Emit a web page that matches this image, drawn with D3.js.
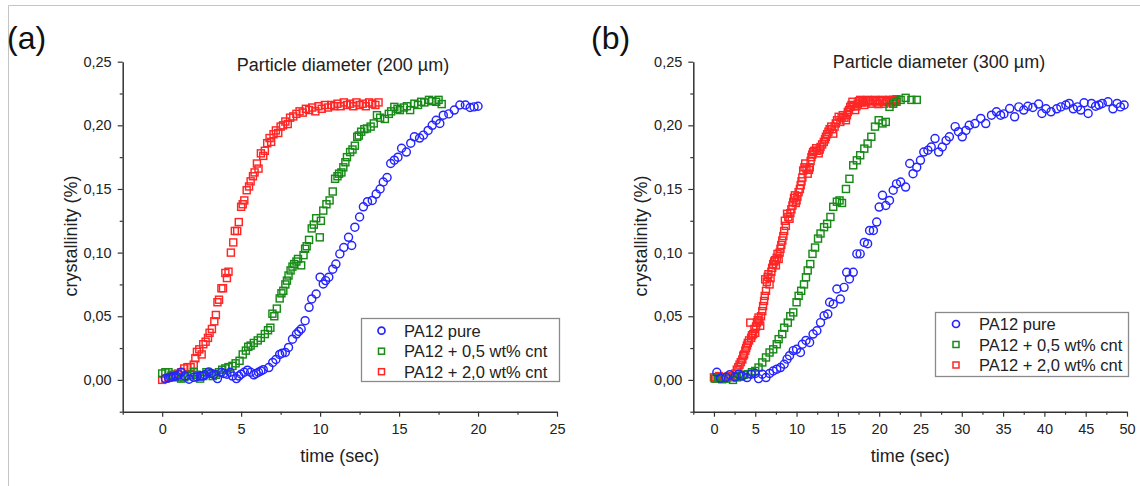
<!DOCTYPE html>
<html>
<head>
<meta charset="utf-8">
<script src="https://cdn.jsdelivr.net/npm/d3@7"></script>
<style>
  body { margin: 0; background: #fff; }
  svg { display: block; font-family: Arial, "Liberation Sans", sans-serif; }
</style>
</head>
<body>
<svg id="chart" width="1140" height="486"></svg>
<script>
// ---- data: [time (sec), crystallinity] ----
const seriesNames = ["PA12 pure", "PA12 + 0,5 wt% cnt", "PA12 + 2,0 wt% cnt"];

// panel (a): particle diameter 200 um
const aBlue = [[0.2,0.001],[0.4,0.0015],[0.53,0.002],[0.7,0.0025],[0.9,0.003],[1.05,0.004],[1.2,0.006],[1.45,0.003],[1.7,0.0005],[2.0,0.002],[2.2,0.0025],[2.4,0.003],[2.55,0.003],[2.7,0.004],[2.95,0.0063],[3.1,0.005],[3.3,0.0045],[3.5,0.001],[3.75,0.006],[3.9,0.005],[4.1,0.0045],[4.3,0.006],[4.45,0.003],[4.7,0.001],[4.85,0.003],[5.0,0.0045],[5.2,0.006],[5.4,0.0076],[5.6,0.006],[5.8,0.004],[5.95,0.005],[6.1,0.006],[6.25,0.007],[6.4,0.008],[6.75,0.0097],[7.0,0.0137],[7.2,0.016],[7.44,0.020],[7.6,0.021],[7.8,0.0215],[8.0,0.0255],[8.25,0.032],[8.5,0.036],[8.65,0.038],[8.8,0.040],[9.05,0.0465],[9.3,0.057],[9.47,0.0636],[9.75,0.0675],[10.0,0.0807],[10.2,0.0754],[10.35,0.078],[10.55,0.0807],[10.8,0.087],[11.0,0.091],[11.25,0.099],[11.5,0.104],[11.8,0.112],[12.0,0.1056],[12.2,0.120],[12.5,0.128],[12.74,0.136],[13.0,0.140],[13.3,0.141],[13.55,0.146],[13.8,0.150],[14.0,0.1555],[14.24,0.159],[14.47,0.170],[14.7,0.1726],[14.93,0.175],[15.16,0.182],[15.46,0.179],[15.74,0.186],[15.97,0.191],[16.3,0.190],[16.54,0.1923],[16.84,0.196],[17.1,0.200],[17.35,0.204],[17.58,0.2015],[17.8,0.208],[18.15,0.209],[18.5,0.212],[18.85,0.216],[19.2,0.216],[19.5,0.214],[19.75,0.2145],[20.0,0.215]];

const aGreen = [[0.0,0.005],[0.2,0.006],[0.4,0.006],[0.6,0.004],[0.8,0.003],[1.0,0.002],[1.2,0.001],[1.4,0.002],[1.6,0.003],[1.8,0.004],[2.0,0.006],[2.2,0.004],[2.4,0.001],[2.6,0.003],[2.8,0.006],[3.0,0.005],[3.2,0.003],[3.4,0.004],[3.6,0.006],[3.8,0.008],[4.0,0.009],[4.2,0.010],[4.45,0.011],[4.65,0.013],[4.9,0.015],[5.1,0.020],[5.3,0.023],[5.45,0.026],[5.6,0.027],[5.8,0.029],[6.05,0.031],[6.25,0.033],[6.5,0.036],[6.7,0.039],[6.85,0.041],[6.98,0.052],[7.1,0.050],[7.26,0.056],[7.44,0.064],[7.55,0.068],[7.67,0.070],[7.8,0.075],[7.9,0.078],[8.0,0.082],[8.13,0.086],[8.25,0.089],[8.36,0.091],[8.5,0.093],[8.6,0.095],[8.8,0.090],[8.95,0.098],[9.05,0.103],[9.15,0.105],[9.3,0.110],[9.47,0.119],[9.6,0.122],[9.75,0.127],[9.98,0.112],[10.05,0.125],[10.2,0.133],[10.4,0.138],[10.6,0.141],[10.8,0.148],[10.95,0.158],[11.1,0.160],[11.2,0.162],[11.35,0.163],[11.47,0.167],[11.6,0.171],[11.7,0.175],[11.9,0.179],[12.05,0.181],[12.2,0.184],[12.35,0.191],[12.45,0.192],[12.6,0.195],[12.8,0.197],[12.97,0.1975],[13.2,0.199],[13.4,0.2015],[13.6,0.208],[13.8,0.206],[14.1,0.205],[14.35,0.209],[14.5,0.211],[14.7,0.2145],[14.9,0.213],[15.05,0.212],[15.3,0.214],[15.5,0.215],[15.7,0.212],[15.97,0.217],[16.2,0.216],[16.4,0.2185],[16.6,0.218],[16.9,0.220],[17.1,0.219],[17.35,0.2185],[17.5,0.220],[17.7,0.2167]];

const aRed = [[0.0,0.000],[0.2,0.001],[0.4,0.002],[0.6,0.003],[0.8,0.004],[1.0,0.005],[1.2,0.006],[1.4,0.009],[1.6,0.010],[1.8,0.010],[2.0,0.012],[2.1,0.017],[2.2,0.022],[2.35,0.024],[2.5,0.020],[2.6,0.028],[2.75,0.030],[2.9,0.033],[3.0,0.037],[3.15,0.040],[3.3,0.046],[3.4,0.051],[3.5,0.061],[3.6,0.063],[3.75,0.072],[3.85,0.072],[4.0,0.084],[4.1,0.080],[4.2,0.085],[4.35,0.100],[4.5,0.108],[4.6,0.117],[4.75,0.117],[4.85,0.124],[5.0,0.136],[5.1,0.138],[5.2,0.141],[5.35,0.149],[5.5,0.152],[5.6,0.156],[5.75,0.160],[5.85,0.163],[6.0,0.170],[6.1,0.166],[6.25,0.178],[6.4,0.176],[6.5,0.180],[6.65,0.186],[6.8,0.190],[6.9,0.187],[7.05,0.193],[7.2,0.196],[7.35,0.194],[7.5,0.199],[7.65,0.200],[7.8,0.203],[7.95,0.201],[8.1,0.206],[8.3,0.207],[8.5,0.209],[8.7,0.211],[8.9,0.210],[9.1,0.213],[9.3,0.212],[9.5,0.214],[9.7,0.211],[9.9,0.215],[10.1,0.213],[10.3,0.216],[10.5,0.214],[10.7,0.216],[10.9,0.215],[11.1,0.217],[11.3,0.215],[11.5,0.218],[11.7,0.216],[11.9,0.217],[12.1,0.215],[12.3,0.218],[12.5,0.216],[12.7,0.217],[12.9,0.215],[13.1,0.218],[13.3,0.217],[13.5,0.216],[13.7,0.218]];

// panel (b): particle diameter 300 um
const bBlue = [[0.35,0.006],[0.8,0.0013],[1.45,0.002],[1.9,0.004],[2.55,0.0024],[3.0,0.0045],[3.43,0.003],[4.0,0.0018],[4.5,0.0045],[5.0,0.005],[5.4,0.001],[5.85,0.0045],[6.3,0.0018],[6.73,0.005],[7.17,0.007],[7.6,0.0084],[8.05,0.0097],[8.5,0.0123],[8.85,0.0163],[9.15,0.019],[9.6,0.023],[10.0,0.024],[10.47,0.0215],[10.7,0.028],[11.14,0.031],[11.58,0.0294],[12.0,0.036],[12.46,0.0386],[12.9,0.045],[13.33,0.0504],[13.78,0.0517],[14.0,0.061],[14.44,0.0596],[14.88,0.0714],[15.3,0.0635],[15.75,0.0727],[16.07,0.0845],[16.4,0.0793],[16.86,0.0845],[17.3,0.099],[17.7,0.099],[18.2,0.108],[18.6,0.107],[18.84,0.1174],[19.3,0.1174],[19.7,0.124],[20.0,0.1358],[20.4,0.145],[20.8,0.137],[21.25,0.141],[21.7,0.149],[22.1,0.154],[22.6,0.1555],[23.2,0.1515],[23.7,0.170],[24.1,0.162],[24.55,0.167],[25.0,0.1725],[25.4,0.179],[25.9,0.1804],[26.3,0.183],[26.76,0.1896],[27.2,0.179],[27.64,0.183],[28.1,0.188],[28.5,0.191],[29.2,0.199],[29.6,0.195],[30.06,0.191],[30.5,0.196],[30.9,0.200],[31.6,0.2014],[32.3,0.2054],[32.9,0.2014],[33.6,0.208],[34.2,0.2106],[34.7,0.208],[35.1,0.209],[35.8,0.2132],[36.4,0.2067],[36.9,0.2145],[37.5,0.212],[38.0,0.215],[38.6,0.214],[39.3,0.2167],[39.7,0.2093],[40.2,0.213],[40.8,0.2106],[41.5,0.213],[42.0,0.2145],[42.6,0.216],[43.0,0.2172],[43.5,0.213],[44.0,0.2145],[44.4,0.212],[44.8,0.2177],[45.3,0.2093],[45.7,0.2172],[46.2,0.215],[46.6,0.216],[47.0,0.2172],[47.7,0.2185],[48.3,0.213],[48.8,0.2172],[49.2,0.2145],[49.65,0.216]];

const bGreen = [[0.1,0.001],[0.5,0.002],[1.0,0.0005],[1.5,0.001],[2.3,0.000],[2.8,0.002],[3.2,0.003],[3.6,0.004],[4.1,0.0045],[4.6,0.006],[5.0,0.007],[5.4,0.0097],[5.85,0.0137],[6.3,0.0176],[6.73,0.0215],[7.17,0.024],[7.6,0.028],[7.83,0.032],[8.27,0.036],[8.5,0.041],[8.94,0.045],[9.24,0.050],[9.6,0.053],[10.0,0.061],[10.25,0.066],[10.56,0.070],[10.9,0.075],[11.14,0.0806],[11.35,0.086],[11.66,0.091],[11.93,0.099],[12.24,0.104],[12.6,0.111],[12.9,0.115],[13.33,0.120],[13.7,0.1226],[14.1,0.128],[14.44,0.136],[14.88,0.140],[15.2,0.141],[15.5,0.139],[15.98,0.150],[16.4,0.158],[16.86,0.1686],[17.3,0.1725],[17.7,0.1765],[18.2,0.1817],[18.6,0.1857],[19.05,0.191],[19.5,0.199],[19.94,0.204],[20.4,0.2015],[20.8,0.2027],[21.25,0.2145],[21.7,0.217],[22.1,0.2185],[22.6,0.220],[23.2,0.2216],[23.9,0.220],[24.55,0.220]];

const bRed = [[0,0.002],[0.3,0.001],[0.6,0.003],[0.9,0.002],[1.2,0.001],[1.45,0.002],[1.8,0.003],[2.1,0.002],[2.4,0.003],[2.6,0.005],[2.77,0.008],[2.95,0.010],[3.1,0.012],[3.25,0.014],[3.43,0.016],[3.55,0.019],[3.65,0.020],[3.8,0.023],[3.9,0.025],[4.0,0.027],[4.1,0.029],[4.25,0.031],[4.4,0.045],[4.5,0.033],[4.6,0.035],[4.75,0.036],[4.9,0.040],[5.0,0.037],[5.1,0.042],[5.2,0.045],[5.3,0.047],[5.4,0.049],[5.5,0.046],[5.6,0.0425],[5.7,0.050],[5.85,0.054],[5.95,0.058],[6.07,0.062],[6.15,0.066],[6.2,0.079],[6.3,0.070],[6.4,0.077],[6.5,0.081],[6.6,0.083],[6.73,0.075],[6.85,0.080],[6.95,0.085],[7.05,0.088],[7.17,0.091],[7.3,0.093],[7.4,0.094],[7.5,0.090],[7.6,0.096],[7.7,0.099],[7.83,0.095],[7.95,0.100],[8.05,0.103],[8.15,0.106],[8.27,0.1095],[8.4,0.113],[8.5,0.117],[8.58,0.125],[8.7,0.121],[8.85,0.1305],[9.0,0.128],[9.15,0.1266],[9.25,0.131],[9.37,0.134],[9.5,0.137],[9.6,0.1397],[9.7,0.143],[9.8,0.145],[9.9,0.139],[10.0,0.141],[10.1,0.144],[10.25,0.1475],[10.4,0.150],[10.5,0.153],[10.6,0.156],[10.7,0.159],[10.8,0.1645],[10.95,0.167],[11.05,0.170],[11.2,0.166],[11.35,0.162],[11.5,0.165],[11.6,0.167],[11.7,0.172],[11.8,0.175],[11.9,0.177],[12.0,0.179],[12.15,0.180],[12.37,0.182],[12.5,0.180],[12.68,0.178],[12.8,0.181],[12.9,0.183],[13.1,0.185],[13.3,0.187],[13.45,0.189],[13.55,0.191],[13.7,0.193],[13.86,0.195],[14.0,0.197],[14.2,0.199],[14.3,0.197],[14.44,0.1935],[14.6,0.199],[14.75,0.2015],[14.9,0.204],[15.1,0.2067],[15.3,0.2027],[15.45,0.206],[15.6,0.208],[15.8,0.206],[15.98,0.204],[16.1,0.208],[16.2,0.2105],[16.35,0.212],[16.5,0.2145],[16.65,0.216],[16.77,0.2185],[16.9,0.215],[17.1,0.212],[17.25,0.215],[17.4,0.217],[17.55,0.219],[17.7,0.220],[17.9,0.218],[18.05,0.219],[18.2,0.216],[18.4,0.218],[18.6,0.220],[18.8,0.219],[19.05,0.217],[19.25,0.219],[19.5,0.220],[19.7,0.218],[19.9,0.2167],[20.1,0.219],[20.4,0.220],[20.6,0.217],[20.8,0.2185],[21.0,0.219],[21.25,0.220],[21.5,0.218],[21.7,0.220],[21.9,0.219],[22.1,0.2205]];

// tick values
const yTicks = [0, 0.05, 0.10, 0.15, 0.20, 0.25];
const yMinor = [-0.025, 0.025, 0.075, 0.125, 0.175, 0.225];
const xTicksA = [0, 5, 10, 15, 20, 25];
const xMinorA = [-2.5, 2.5, 7.5, 12.5, 17.5, 22.5];
const xTicksB = [0, 5, 10, 15, 20, 25, 30, 35, 40, 45, 50];
const xMinorB = [-2.5, 2.5, 7.5, 12.5, 17.5, 22.5, 27.5, 32.5, 37.5, 42.5, 47.5];

const colors = { blue: "#2424ff", green: "#178a17", red: "#ff2626" };
const axisColor = "#333";
const textColor = "#222";

const svg = d3.select("#chart");

// light frame around the figure
svg.append("line").attr("x1", 8.5).attr("y1", 5.5).attr("x2", 1140).attr("y2", 5.5)
  .attr("stroke", "#c4c4c4").attr("stroke-width", 1);
svg.append("line").attr("x1", 8.5).attr("y1", 5.5).attr("x2", 8.5).attr("y2", 486)
  .attr("stroke", "#c4c4c4").attr("stroke-width", 1);

const fmtY = d => d3.format(".2f")(d).replace(".", ",");

function styleAxis(sel, fontSize) {
  sel.select(".domain").attr("stroke", axisColor).attr("stroke-width", 1.5);
  sel.selectAll(".tick line").attr("stroke", axisColor).attr("stroke-width", 1.2);
  sel.selectAll(".tick text").attr("fill", textColor)
    .style("font-size", fontSize + "px").style("font-family", "Arial, 'Liberation Sans', sans-serif");
}

function drawPanel(p) {
  const g = svg.append("g");
  const x = d3.scaleLinear().domain([-2.5, p.xMax]).range([p.x0, p.x1]);
  const y = d3.scaleLinear().domain([-0.025, 0.25]).range([411.7, 61.7]);
  const yBase = y(-0.025);

  // minor ticks
  g.append("g").attr("transform", `translate(${p.x0},0)`)
    .call(d3.axisLeft(y).tickValues(yMinor).tickSize(3).tickFormat(""))
    .call(s => { s.select(".domain").remove(); styleAxis(s, 14); });
  g.append("g").attr("transform", `translate(0,${yBase})`)
    .call(d3.axisBottom(x).tickValues(p.xMinor).tickSize(3).tickFormat(""))
    .call(s => { s.select(".domain").remove(); styleAxis(s, 14); });

  // major ticks + axis lines
  g.append("g").attr("transform", `translate(${p.x0},0)`)
    .call(d3.axisLeft(y).tickValues(yTicks).tickSize(5).tickSizeOuter(0).tickPadding(6).tickFormat(fmtY))
    .call(s => styleAxis(s, 14.5));
  g.append("g").attr("transform", `translate(0,${yBase})`)
    .call(d3.axisBottom(x).tickValues(p.xTicks).tickSize(5).tickSizeOuter(0).tickPadding(7).tickFormat(d3.format("d")))
    .call(s => styleAxis(s, 14.5));

  // axis titles
  g.append("text").attr("x", (p.x0 + p.x1) / 2).attr("y", 462)
    .attr("text-anchor", "middle").attr("fill", textColor).style("font-size", "18px")
    .text("time (sec)");
  g.append("text").attr("transform", `translate(${p.x0 - 46},${236}) rotate(-90)`)
    .attr("text-anchor", "middle").attr("fill", textColor).style("font-size", "18px")
    .text("crystallinity (%)");

  // panel title
  g.append("text").attr("x", p.titleX).attr("y", p.titleY)
    .attr("text-anchor", "middle").attr("fill", textColor).style("font-size", "18px")
    .text(p.title);

  // panel letter
  svg.append("text").attr("x", p.letterX).attr("y", 49)
    .attr("fill", "#111").style("font-size", "32px")
    .text(p.letter);

  // data: red first, then green, blue on top
  const sq = 7;
  g.append("g").selectAll("rect").data(p.red).join("rect")
    .attr("x", d => x(d[0]) - sq / 2).attr("y", d => y(d[1]) - sq / 2)
    .attr("width", sq).attr("height", sq)
    .attr("fill", "none").attr("stroke", colors.red).attr("stroke-width", 1.45);
  g.append("g").selectAll("rect").data(p.green).join("rect")
    .attr("x", d => x(d[0]) - sq / 2).attr("y", d => y(d[1]) - sq / 2)
    .attr("width", sq).attr("height", sq)
    .attr("fill", "none").attr("stroke", colors.green).attr("stroke-width", 1.45);
  g.append("g").selectAll("circle").data(p.blue).join("circle")
    .attr("cx", d => x(d[0])).attr("cy", d => y(d[1])).attr("r", 4)
    .attr("fill", "none").attr("stroke", colors.blue).attr("stroke-width", 1.45);

  // legend
  const L = p.legend;
  const lg = svg.append("g").attr("transform", `translate(${L.x},${L.y})`);
  lg.append("rect").attr("x", 0.5).attr("y", 0.5).attr("width", L.w).attr("height", L.h)
    .attr("fill", "#fff").attr("stroke", "#8a8a8a").attr("stroke-width", 1.3);
  const rowY = [L.row0, L.row0 + 20.5, L.row0 + 41];
  const mColors = [colors.blue, colors.green, colors.red];
  seriesNames.forEach((name, i) => {
    if (i === 0) {
      lg.append("circle").attr("cx", L.mx).attr("cy", rowY[i]).attr("r", 3.5)
        .attr("fill", "none").attr("stroke", mColors[i]).attr("stroke-width", 1.7);
    } else {
      lg.append("rect").attr("x", L.mx - 3).attr("y", rowY[i] - 3).attr("width", 6).attr("height", 6)
        .attr("fill", "none").attr("stroke", mColors[i]).attr("stroke-width", 1.5);
    }
    lg.append("text").attr("x", L.tx).attr("y", rowY[i] + 6)
      .attr("fill", textColor).style("font-size", "16.5px").text(name);
  });
}

drawPanel({
  x0: 122.7, x1: 557, xMax: 25, xTicks: xTicksA, xMinor: xMinorA,
  title: "Particle diameter (200 \u00b5m)", titleX: 343, titleY: 71,
  letter: "(a)", letterX: 7,
  blue: aBlue, green: aGreen, red: aRed,
  legend: { x: 361, y: 318, w: 198, h: 63, mx: 20.5, tx: 43, row0: 12.7 }
});

drawPanel({
  x0: 693.3, x1: 1127, xMax: 50, xTicks: xTicksB, xMinor: xMinorB,
  title: "Particle diameter (300 \u00b5m)", titleX: 939, titleY: 68,
  letter: "(b)", letterX: 591,
  blue: bBlue, green: bGreen, red: bRed,
  legend: { x: 935, y: 312, w: 193, h: 64, mx: 21, tx: 44, row0: 12 }
});
</script>
</body>
</html>
